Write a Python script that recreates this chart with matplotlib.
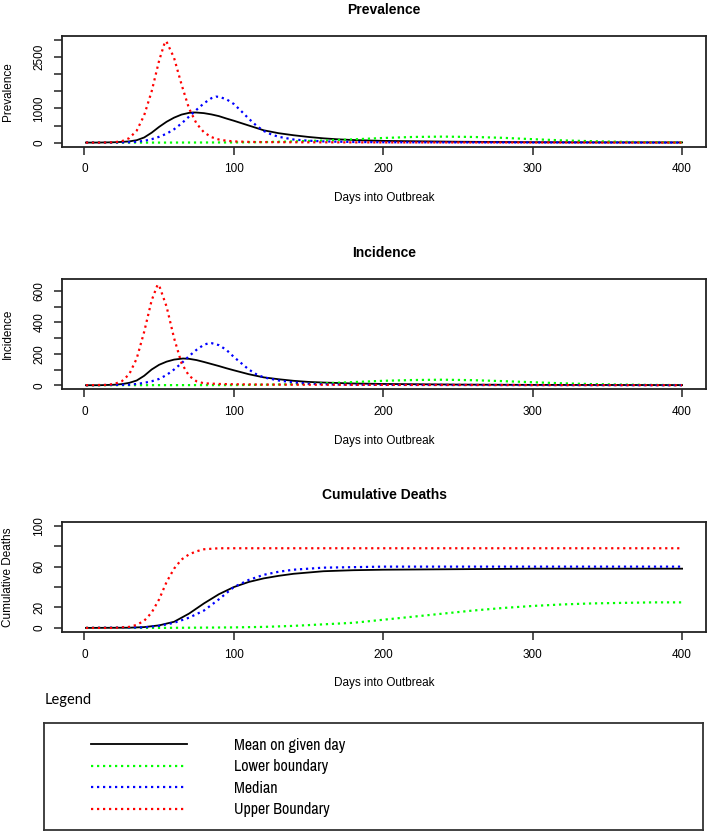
import matplotlib
matplotlib.use("Agg")
import matplotlib.pyplot as plt
from matplotlib.lines import Line2D
from matplotlib import font_manager

plt.rcParams['font.family'] = ['Liberation Sans', 'DejaVu Sans']

# ---------------- data ----------------
xticks = [0, 100, 200, 300, 400]
series_labels = ["Mean on given day", "Lower boundary", "Median", "Upper Boundary"]

# Prevalence
prev_mean_days = [1, 10, 20, 25, 30, 35, 40, 45, 50, 55, 60, 65, 70, 73, 75, 80, 85, 90, 95, 100,
                  110, 120, 130, 140, 150, 160, 170, 180, 200, 250, 300, 350, 400]
prev_mean = [0, 2, 10, 20, 35, 70, 150, 290, 460, 610, 730, 820, 870, 882, 880, 862, 825, 775, 705, 640,
             500, 360, 275, 215, 165, 125, 95, 75, 50, 25, 12, 7, 5]
prev_low_days = [1, 50, 100, 120, 140, 160, 180, 200, 220, 240, 260, 280, 300, 320, 340, 360, 380, 400]
prev_low = [0, 0, 5, 15, 35, 60, 95, 135, 165, 175, 165, 140, 100, 65, 40, 22, 12, 5]
prev_med_days = [1, 20, 30, 35, 40, 45, 50, 55, 60, 65, 70, 75, 80, 85, 88, 90, 95, 100, 105, 110,
                 115, 120, 125, 130, 140, 150, 160, 180, 200, 250, 300, 400]
prev_med = [0, 2, 10, 25, 50, 100, 170, 260, 390, 560, 760, 960, 1150, 1300, 1345, 1340, 1270, 1130, 920, 700,
            500, 340, 240, 170, 90, 55, 35, 18, 10, 5, 3, 0]
prev_up_days = [1, 10, 15, 20, 25, 30, 35, 40, 45, 50, 54, 55, 60, 65, 70, 75, 80, 85, 90, 95, 100,
                110, 120, 140, 160, 200, 300, 400]
prev_up = [0, 0, 3, 10, 40, 130, 350, 800, 1500, 2400, 2960, 2950, 2480, 1700, 1000, 560, 300, 160, 90, 55, 35,
           20, 15, 10, 8, 5, 2, 0]
prev_yticks = [0, 500, 1000, 1500, 2000, 2500, 3000]
prev_yticklabels = ["0", "", "1000", "", "", "2500", ""]

# Incidence
inc_mean_days = [1, 10, 20, 25, 30, 35, 40, 45, 50, 55, 60, 66, 70, 75, 80, 85, 90, 95, 100, 110, 120,
                 130, 140, 150, 160, 180, 200, 250, 300, 400]
inc_mean = [0, 0, 3, 7, 15, 30, 60, 100, 130, 150, 163, 170, 168, 160, 148, 135, 122, 108, 95, 70, 50,
            38, 28, 21, 17, 11, 8, 4, 2, 1]
inc_low_days = [1, 100, 120, 140, 160, 180, 200, 220, 240, 260, 280, 300, 320, 340, 360, 380, 400]
inc_low = [0, 1, 3, 6, 12, 20, 28, 33, 35, 32, 26, 19, 12, 7, 4, 2, 1]
inc_med_days = [1, 30, 35, 40, 45, 50, 55, 60, 65, 70, 75, 80, 84, 85, 90, 95, 100, 105, 110, 115, 120,
                130, 140, 150, 160, 180, 200, 300, 400]
inc_med = [0, 3, 8, 15, 25, 40, 65, 100, 140, 185, 225, 258, 269, 268, 255, 225, 180, 140, 100, 70, 50,
           30, 18, 10, 6, 3, 2, 1, 0]
inc_up_days = [1, 15, 20, 25, 30, 35, 40, 45, 49, 50, 55, 60, 65, 70, 75, 80, 90, 100, 120, 150, 200, 300, 400]
inc_up = [0, 2, 8, 25, 70, 170, 340, 540, 640, 635, 500, 300, 140, 60, 25, 12, 8, 6, 4, 3, 2, 1, 0]
inc_yticks = [0, 100, 200, 300, 400, 500, 600]
inc_yticklabels = ["0", "", "200", "", "400", "", "600"]

# Cumulative deaths
dth_mean_days = [1, 30, 40, 50, 60, 70, 80, 90, 100, 110, 120, 130, 140, 160, 180, 200, 250, 300, 400]
dth_mean = [0, 0.2, 0.8, 2.5, 6, 14, 24, 33, 40, 45, 48.5, 51, 53, 55.5, 56.5, 57, 57.5, 58, 58]
dth_low_days = [1, 50, 100, 120, 140, 160, 180, 200, 220, 240, 260, 280, 300, 320, 340, 360, 380, 400]
dth_low = [0, 0, 0.5, 1, 2, 3.5, 5, 8, 11, 14, 17, 19.5, 21.5, 23, 24, 24.5, 25, 25]
dth_med_days = [1, 40, 50, 60, 70, 80, 90, 100, 110, 120, 130, 140, 160, 200, 300, 400]
dth_med = [0, 0.5, 2, 5, 10, 17, 28, 40, 47, 52, 55, 57, 59, 60, 60, 60]
dth_up_days = [1, 20, 30, 35, 40, 45, 50, 55, 60, 65, 70, 75, 80, 90, 100, 150, 200, 300, 400]
dth_up = [0, 0, 1, 3, 7, 15, 28, 45, 58, 67, 72, 75, 77, 78, 78, 78, 78, 78, 78]
dth_yticks = [0, 20, 40, 60, 80, 100]
dth_yticklabels = ["0", "20", "", "60", "", "100"]

# ---------------- styling ----------------
W, H = 709, 834
fig = plt.figure(figsize=(W / 100, H / 100), dpi=100)

dot = (0, (1, 1.7))
styles = [dict(color="black", lw=1.3, ls="-"),
          dict(color="#00ff00", lw=1.6, ls=dot),
          dict(color="#0000ff", lw=1.6, ls=dot),
          dict(color="#ff0000", lw=1.6, ls=dot)]


def frac_rect(left_px, top_px, right_px, bottom_px):
    return [left_px / W, 1 - bottom_px / H, (right_px - left_px) / W, (bottom_px - top_px) / H]


panels = [
    ("Prevalence", "Prevalence", (36, 146.7),
     [(prev_mean_days, prev_mean), (prev_low_days, prev_low), (prev_med_days, prev_med), (prev_up_days, prev_up)],
     prev_yticks, prev_yticklabels, (-120, 3120)),
    ("Incidence", "Incidence", (279.3, 389.3),
     [(inc_mean_days, inc_mean), (inc_low_days, inc_low), (inc_med_days, inc_med), (inc_up_days, inc_up)],
     inc_yticks, inc_yticklabels, (-26, 674)),
    ("Cumulative Deaths", "Cumulative Deaths", (521.7, 632),
     [(dth_mean_days, dth_mean), (dth_low_days, dth_low), (dth_med_days, dth_med), (dth_up_days, dth_up)],
     dth_yticks, dth_yticklabels, (-4, 104)),
]

for title, ylabel, (top, bot), data, yt, ytl, ylim in panels:
    ax = fig.add_axes(frac_rect(62, top, 706, bot))
    for (d, v), st in zip(data, styles):
        ax.plot(d, v, color=st["color"], lw=st["lw"], ls=st["ls"])
    ax.set_xlim(-15, 416)
    ax.set_ylim(*ylim)
    ax.set_xticks(xticks)
    ax.set_xticklabels([str(t) for t in xticks])
    ax.set_yticks(yt)
    ax.set_yticklabels(ytl)
    for s in ax.spines.values():
        s.set_linewidth(1.3)
        s.set_color("#222222")
    ax.tick_params(axis="both", direction="out", length=6, width=1.1, labelsize=8.5, pad=6,
                   colors="#222222", labelcolor="black")
    for lab in ax.get_yticklabels():
        lab.set_rotation(90)
        lab.set_va("center")
    ax.set_title(title, fontsize=10, fontweight="bold", pad=16)
    ax.set_xlabel("Days into Outbreak", fontsize=8.5, labelpad=12)
    ax.set_ylabel(ylabel, fontsize=8.5, labelpad=14)

# ---------------- legend ----------------
fig.text(45 / W, 1 - 700 / H, "Legend", fontsize=10.5, family=["Lato", "DejaVu Sans"],
         ha="left", va="center")

lax = fig.add_axes(frac_rect(44, 723, 703, 830))
lax.set_xticks([])
lax.set_yticks([])
for s in lax.spines.values():
    s.set_linewidth(1.3)
    s.set_color("#333333")

names = sorted({f.name for f in font_manager.fontManager.ttflist})
narrow = [n for n in names if "Narrow" in n] + [n for n in names if "Condensed" in n]
leg_family = narrow[:1] + ["Liberation Sans", "DejaVu Sans"]
leg_size = 11.5 if narrow else 10.5

handles = [Line2D([], [], color=st["color"], lw=st["lw"], ls=st["ls"]) for st in styles]
leg = lax.legend(handles, series_labels, loc="upper left",
                 bbox_to_anchor=((91 - 44) / 659, 1 - 15 / 107),
                 frameon=False, handlelength=6.0, handletextpad=2.95,
                 labelspacing=0.40, borderpad=0, borderaxespad=0,
                 prop={"family": leg_family, "size": leg_size})

fig.savefig("out.png", dpi=100)
